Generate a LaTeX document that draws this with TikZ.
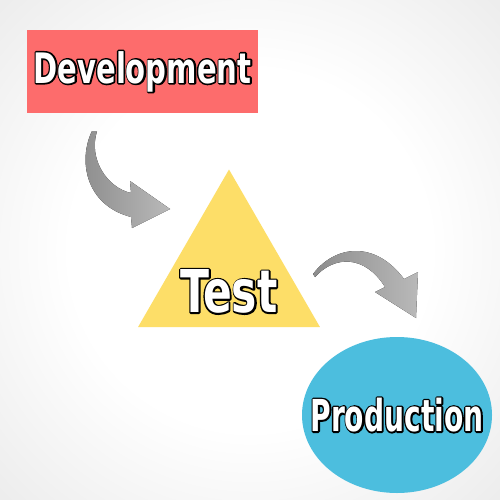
\documentclass[tikz,border=0pt]{standalone}
\usepackage{fontspec}
\usetikzlibrary{calc}
\usetikzlibrary{positioning}
\usetikzlibrary{shapes.geometric}
\newfontfamily\devfont{DejaVu Sans Condensed Bold}[FakeStretch=0.77]
\newfontfamily\testfont{DejaVu Sans Condensed Bold}[FakeStretch=0.8]
\newfontfamily\prodfont{DejaVu Sans Condensed Bold}[FakeStretch=0.71]
\definecolor{devred}{RGB}{253,108,108}
\definecolor{testyellow}{RGB}{253,222,104}
\definecolor{prodblue}{RGB}{76,190,222}
\pgfdeclareradialshading{bgglow}{\pgfpoint{0bp}{0bp}}{color(0bp)=(white); color(18bp)=(white); color(72bp)=(gray!45)}
% white letters with a black rim
\newcommand{\outl}[1]{\rlap{\special{pdf:literal direct q 1 Tr 3.2 w 0 G}#1\special{pdf:literal direct Q}}#1}

\begin{document}
\begin{tikzpicture}[x=1pt, y=-1pt, line join=round,
    lbl/.style={text=white},
    arrowfill/.style={left color=gray!90, right color=gray!55}]
  \useasboundingbox (0,0) rectangle (500,500);
  %--- background
    \shade[shading=bgglow] (0,0) rectangle (500,500);
  %--- Development
    \node[fill=devred, minimum width=231pt, minimum height=83pt, inner sep=0, outer sep=0] (dev) at (142.5,71.5) {};
    \node[lbl, font=\devfont\fontsize{42}{42}\selectfont] (devtxt) at (dev.center) {\outl{Development}};
  %--- Test
    \node[regular polygon, regular polygon sides=3, fill=testyellow, minimum size=210pt, inner sep=0, outer sep=0] (test) at (229,274.5) {};
    \node[lbl, font=\testfont\fontsize{59}{59}\selectfont] (testtxt) at ($(test.center)+(0,17)$) {\outl{Test}};
  %--- Production
    \node[ellipse, fill=prodblue, minimum width=190pt, minimum height=156pt, inner sep=0, outer sep=0] (prod) at (397,415) {};
    \node[lbl, font=\prodfont\fontsize{44}{44}\selectfont] (prodtxt) at (prod.center) {\outl{Production}};
  %--- arrow Development -> Test
    \fill[arrowfill] (92,131) .. controls (78,160) and (85,205) .. (131,217) -- (132,228) -- (170,209)
      -- (130,181) -- (131,193) .. controls (108,188) and (88,160) .. (97,131) -- cycle;
  %--- arrow Test -> Production
    \fill[arrowfill] (313,274) .. controls (335,245) and (375,240) .. (404,279) -- (418,272) -- (416,318)
      -- (375,292) -- (385,287) .. controls (365,255) and (335,255) .. (315,277) -- cycle;
\end{tikzpicture}
\end{document}
